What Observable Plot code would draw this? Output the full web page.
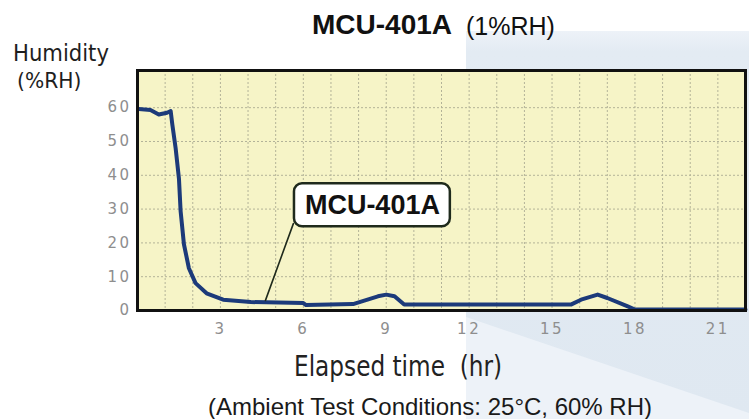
<!DOCTYPE html>
<html>
<head>
<meta charset="utf-8">
<script src="https://cdn.jsdelivr.net/npm/d3@7"></script>
<script src="https://cdn.jsdelivr.net/npm/@observablehq/plot@0.6"></script>
<style>
  html, body { margin: 0; padding: 0; background: #ffffff; }
  #wrap { position: relative; width: 749px; height: 419px; overflow: hidden; }
  .bg-blue { position: absolute; left: 466px; top: 31px; right: 0; bottom: 0;
    background: linear-gradient(180deg, #edf2f8 0px, #e3ebf3 20px, #dfe8f1 100%); }
  .bg-light { position: absolute; left: 0; top: 0; width: 749px; height: 419px;
    background: #edf2f8; clip-path: polygon(466px 317px, 749px 413px, 749px 419px, 466px 419px); }
  #chart { position: absolute; left: 0; top: 0; }
  .t { position: absolute; white-space: nowrap; line-height: 1; }
  .title { left: 312px; top: 9px; font: bold 28px "Liberation Sans", Arial, sans-serif; color: #111; }
  .sub { left: 466px; top: 12px; font: 25px "Liberation Sans", Arial, sans-serif; color: #111; }
  .ylab { font-family: "DejaVu Sans", sans-serif; color: #1e1e1e; transform: scaleX(0.92); transform-origin: 0 0; }
  .hum { left: 13px; top: 42px; font-size: 23px; }
  .rh { left: 17px; top: 70px; font-size: 22px; }
  .xlab { left: 294px; top: 352px; font-family: "DejaVu Sans", sans-serif; font-size: 29px; color: #222;
    transform: scaleX(0.8); transform-origin: 0 0; }
  .cap { left: 208px; top: 393px; font: 24px "Liberation Sans", Arial, sans-serif; color: #1a1a1a; }
</style>
</head>
<body>
<div id="wrap">
  <div class="bg-blue"></div>
  <div class="bg-light"></div>
  <div id="chart"></div>
  <div class="t title">MCU-401A</div>
  <div class="t sub">(1%RH)</div>
  <div class="t ylab hum">Humidity</div>
  <div class="t ylab rh">(%RH)</div>
  <div class="t xlab">Elapsed time&nbsp; (hr)</div>
  <div class="t cap">(Ambient Test Conditions: 25°C, 60% RH)</div>
</div>
<script>
// Elapsed time (hr) and humidity (%RH)
const hours =    [0.05, 0.47, 0.77, 1.07, 1.2, 1.26, 1.38, 1.5, 1.56, 1.68, 1.86, 2.1, 2.5, 3.1, 4.1, 6.0, 6.1, 7.8, 8.7, 9.0, 9.3, 9.65, 15.7, 16.05, 16.65, 17.0, 17.74, 18.0, 22.0];
const humidity = [59.6, 59.3, 58.0, 58.5, 59.0, 55.0, 48.0, 39.0, 29.4, 19.6, 12.5, 8.1, 5.1, 3.2, 2.5, 2.2, 1.6, 1.9, 4.2, 4.7, 4.2, 1.8, 1.8, 3.2, 4.7, 3.7, 1.2, 0.3, 0.3];

const yTicks = [0, 10, 20, 30, 40, 50, 60];
const xTicks = [3, 6, 9, 12, 15, 18, 21];
const xGrid = [1,2,3,4,5,6,7,8,9,10,11,12,13,14,15,16,17,18,19,20,21];
const yGrid = [10, 20, 30, 40, 50, 60];

// callout annotation (data coordinates)
const calloutText = ["MCU-401A"];
const calloutBox = [{x1: 5.68, x2: 11.32, y1: 24.8, y2: 37.5}];
const leaderX = [5.64, 4.63];
const leaderY = [25.7, 3.0];

const series = hours.map((h, i) => ({h, v: humidity[i]}));
const leader = leaderX.map((x, i) => ({x, y: leaderY[i]}));
const labelRows = calloutText.map((t, i) => ({t, x: (calloutBox[i].x1 + calloutBox[i].x2) / 2, y: (calloutBox[i].y1 + calloutBox[i].y2) / 2}));

const chart = Plot.plot({
  width: 749,
  height: 419,
  marginLeft: 137,
  marginRight: 4,
  marginTop: 70,
  marginBottom: 109,
  x: {domain: [0, 22]},
  y: {domain: [0, 71]},
  style: {background: "transparent", overflow: "visible"},
  marks: [
    Plot.frame({fill: "#f6f4c7", stroke: null}),
    Plot.gridX(xGrid, {stroke: "#b3b398", strokeOpacity: 1, strokeDasharray: "2,2"}),
    Plot.gridY(yGrid, {stroke: "#b3b398", strokeOpacity: 1, strokeDasharray: "2,2"}),
    Plot.line(series, {x: "h", y: "v", stroke: "#1c3a7a", strokeWidth: 4, strokeLinejoin: "round"}),
    Plot.line(leader, {x: "x", y: "y", stroke: "#1f2a1c", strokeWidth: 1.6}),
    Plot.rect(calloutBox, {x1: "x1", x2: "x2", y1: "y1", y2: "y2", fill: "white", stroke: "#1f2a1c", strokeWidth: 2.5, rx: 8}),
    Plot.text(labelRows, {x: "x", y: "y", text: "t", fontSize: 27, fontWeight: "bold", fontFamily: "Liberation Sans, Arial, sans-serif", fill: "#111"}),
    Plot.frame({stroke: "#111", strokeWidth: 3}),
    Plot.axisY(yTicks, {tickSize: 0, tickPadding: 6, fontSize: 15, fill: "#8e8e8e", fontFamily: "DejaVu Sans, sans-serif", label: null}),
    Plot.axisX(xTicks, {tickSize: 0, tickPadding: 13, fontSize: 15, fill: "#8e8e8e", fontFamily: "DejaVu Sans, sans-serif", label: null})
  ]
});
chart.querySelectorAll('[aria-label="y-axis tick label"] text, [aria-label="x-axis tick label"] text')
  .forEach(t => t.setAttribute("letter-spacing", "2.5"));
document.getElementById("chart").appendChild(chart);
</script>
</body>
</html>
